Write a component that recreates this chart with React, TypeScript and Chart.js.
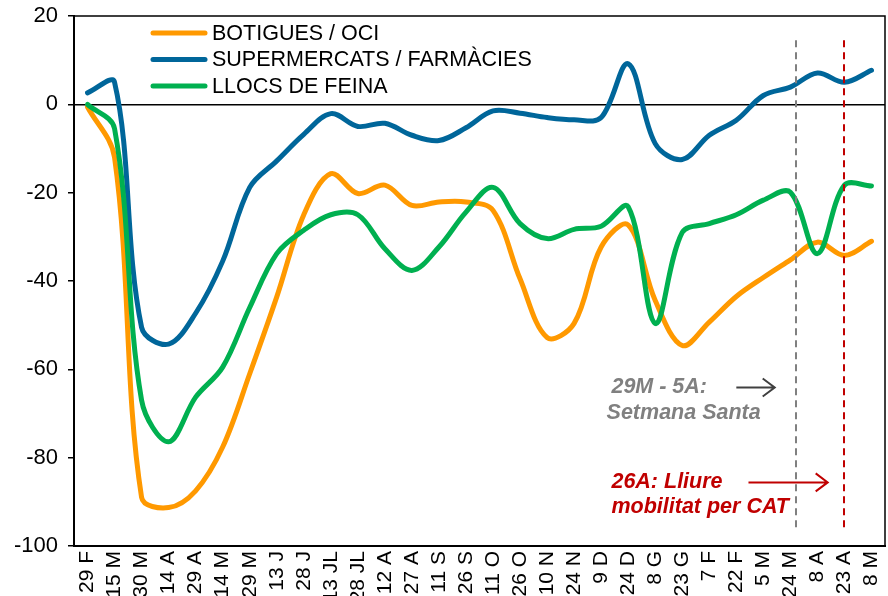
import React, { useEffect, useRef } from 'react';
import { Chart, registerables } from 'chart.js';

Chart.register(...registerables);

const categories = [
  '29 F', '15 M', '30 M', '14 A', '29 A', '14 M', '29 M', '13 J', '28 J', '13 JL',
  '28 JL', '12 A', '27 A', '11 S', '26 S', '11 O', '26 O', '10 N', '24 N', '9 D',
  '24 D', '8 G', '23 G', '7 F', '22 F', '5 M', '24 M', '8 A', '23 A', '8 M',
];

const botigues = [
  -0.6, -12, -89, -91.3, -87.5, -77.6, -61, -43.6, -25, -15.7,
  -20.2, -18.3, -22.9, -22.1, -22.1, -24, -39.5, -52.8, -49.6, -32.3,
  -27.3, -44.4, -54.6, -49.3, -43.5, -39.2, -35.2, -31.2, -34.2, -31,
];

const supermercats = [
  2.6, 5, -50.5, -54.3, -47.3, -35.5, -18.8, -12.8, -6.8, -2.1,
  -5, -4.3, -7, -8.2, -5.3, -1.5, -2, -3, -3.5, -3,
  9.2, -8.9, -12.5, -7, -3.6, 2, 3.9, 7.1, 5, 7.7,
];

const llocs = [
  0, -5.5, -67, -76.4, -66.3, -59.5, -46, -33.8, -28.5, -25,
  -25, -32.7, -37.6, -32.3, -24.4, -18.8, -27, -30.4, -28.3, -27.6,
  -23.2, -49.6, -29, -27, -25, -21.7, -19.9, -33.8, -18.3, -18.5,
];

const seriesNames = ['BOTIGUES / OCI', 'SUPERMERCATS / FARMÀCIES', 'LLOCS DE FEINA'];
const seriesColors = ['#FF9900', '#00669A', '#00B050'];

const yMin = -100;
const yMax = 20;
const yStep = 20;

// Annotation anchors in data units (category index, value)
const easterLineIndex = 26.19;
const freeMobilityLineIndex = 28.0;
const dashTopValue = 14.5;
const dashBottomValue = -96.4;
const easterText = ['29M - 5A:', 'Setmana Santa'];
const freeText = ['26A: Lliure', 'mobilitat per CAT'];

const FONT = "'Liberation Sans', Arial, sans-serif";

const overlayPlugin = {
  id: 'overlay',
  beforeDatasetsDraw(chart: any) {
    const { ctx, chartArea } = chart;
    ctx.save();
    ctx.strokeStyle = '#000';
    ctx.lineWidth = 1.5;
    ctx.beginPath();
    ctx.moveTo(chartArea.left, chartArea.top);
    ctx.lineTo(chartArea.right, chartArea.top);
    ctx.lineTo(chartArea.right, chartArea.bottom);
    ctx.stroke();
    ctx.restore();
  },
  afterDatasetsDraw(chart: any) {
    const { ctx, chartArea, scales } = chart;
    const x = scales.x;
    const y = scales.y;
    const x0 = x.getPixelForValue(0);
    const step = x.getPixelForValue(1) - x0;
    const px = (idx: number) => x0 + idx * step;

    // dashed vertical lines
    const dashed = (idx: number, color: string) => {
      ctx.save();
      ctx.strokeStyle = color;
      ctx.lineWidth = 2;
      ctx.setLineDash([7, 5]);
      ctx.beginPath();
      ctx.moveTo(Math.round(px(idx)), y.getPixelForValue(dashTopValue));
      ctx.lineTo(Math.round(px(idx)), y.getPixelForValue(dashBottomValue));
      ctx.stroke();
      ctx.restore();
    };
    dashed(easterLineIndex, '#808080');
    dashed(freeMobilityLineIndex, '#C00000');

    // arrows
    const arrow = (i1: number, i2: number, v: number, color: string) => {
      const yy = y.getPixelForValue(v);
      const xa = px(i1);
      const xb = px(i2);
      ctx.save();
      ctx.strokeStyle = color;
      ctx.lineWidth = 2;
      ctx.beginPath();
      ctx.moveTo(xa, yy);
      ctx.lineTo(xb, yy);
      ctx.moveTo(xb - 12, yy - 9);
      ctx.lineTo(xb, yy);
      ctx.lineTo(xb - 12, yy + 9);
      ctx.stroke();
      ctx.restore();
    };
    arrow(24.0, 25.42, -64.1, '#404040');
    arrow(24.45, 27.38, -85.6, '#C00000');

    // annotation texts
    ctx.save();
    ctx.font = `italic bold 21.5px ${FONT}`;
    ctx.textBaseline = 'middle';
    ctx.textAlign = 'left';
    ctx.fillStyle = '#808080';
    ctx.fillText(easterText[0], px(19.38), y.getPixelForValue(-64.1));
    ctx.fillText(easterText[1], px(19.2), y.getPixelForValue(-69.8));
    ctx.fillStyle = '#C00000';
    ctx.fillText(freeText[0], px(19.38), y.getPixelForValue(-85.6));
    ctx.fillText(freeText[1], px(19.38), y.getPixelForValue(-91.3));
    ctx.restore();

    // legend
    ctx.save();
    ctx.font = `21.5px ${FONT}`;
    ctx.textBaseline = 'middle';
    ctx.textAlign = 'left';
    const lx = chartArea.left + 79;
    const ly = chartArea.top + 17;
    for (let i = 0; i < seriesNames.length; i++) {
      const yy = ly + i * 26.5;
      ctx.strokeStyle = seriesColors[i];
      ctx.lineWidth = 5;
      ctx.lineCap = 'round';
      ctx.beginPath();
      ctx.moveTo(lx, yy);
      ctx.lineTo(lx + 52, yy);
      ctx.stroke();
      ctx.fillStyle = '#000';
      ctx.fillText(seriesNames[i], lx + 59, yy + 1);
    }
    ctx.restore();
  },
};

export default function App() {
  const canvasRef = useRef<HTMLCanvasElement | null>(null);

  useEffect(() => {
    document.body.style.margin = '0';
    document.body.style.overflow = 'hidden';
    const canvas = canvasRef.current;
    if (!canvas) return;
    const data = [botigues, supermercats, llocs];
    const chart = new Chart(canvas, {
      type: 'line',
      data: {
        labels: categories,
        datasets: data.map((d, i) => ({
          label: seriesNames[i],
          data: d,
          borderColor: seriesColors[i],
          backgroundColor: seriesColors[i],
          borderWidth: 5,
          pointRadius: 0,
          pointHoverRadius: 0,
          tension: 0.35,
          fill: false,
          borderCapStyle: 'round' as const,
          borderJoinStyle: 'round' as const,
          order: 2 - i,
        })),
      },
      options: {
        animation: false,
        responsive: false,
        maintainAspectRatio: false,
        events: [],
        layout: { padding: { top: 16, right: 3, left: 0, bottom: 0 } },
        plugins: {
          legend: { display: false },
          tooltip: { enabled: false },
        },
        scales: {
          x: {
            type: 'category',
            offset: true,
            grid: { display: true, drawOnChartArea: false, drawTicks: false },
            border: { display: true, color: '#000', width: 2 },
            ticks: {
              autoSkip: false,
              minRotation: 90,
              maxRotation: 90,
              padding: 5,
              color: '#000',
              font: { family: FONT, size: 21 },
            },
            afterFit: (s: any) => {
              s.height = 50;
              s.paddingLeft = 0;
              s.paddingRight = 0;
            },
          },
          y: {
            min: yMin,
            max: yMax,
            ticks: {
              stepSize: yStep,
              padding: 10,
              color: '#000',
              font: { family: FONT, size: 22 },
            },
            grid: {
              color: (c: any) => (c.tick && c.tick.value === 0 ? '#000' : 'rgba(0,0,0,0)'),
              lineWidth: 1.5,
              tickColor: '#000',
              tickLength: 6,
              drawTicks: true,
            },
            border: { display: true, color: '#000', width: 2 },
            afterFit: (s: any) => {
              s.width = 74;
              s.paddingTop = 0;
              s.paddingBottom = 0;
            },
          },
        },
      },
      plugins: [overlayPlugin],
    });
    return () => chart.destroy();
  }, []);

  return (
    <div style={{ width: 888, height: 596 }}>
      <canvas ref={canvasRef} width={888} height={596} style={{ display: 'block' }} />
    </div>
  );
}
